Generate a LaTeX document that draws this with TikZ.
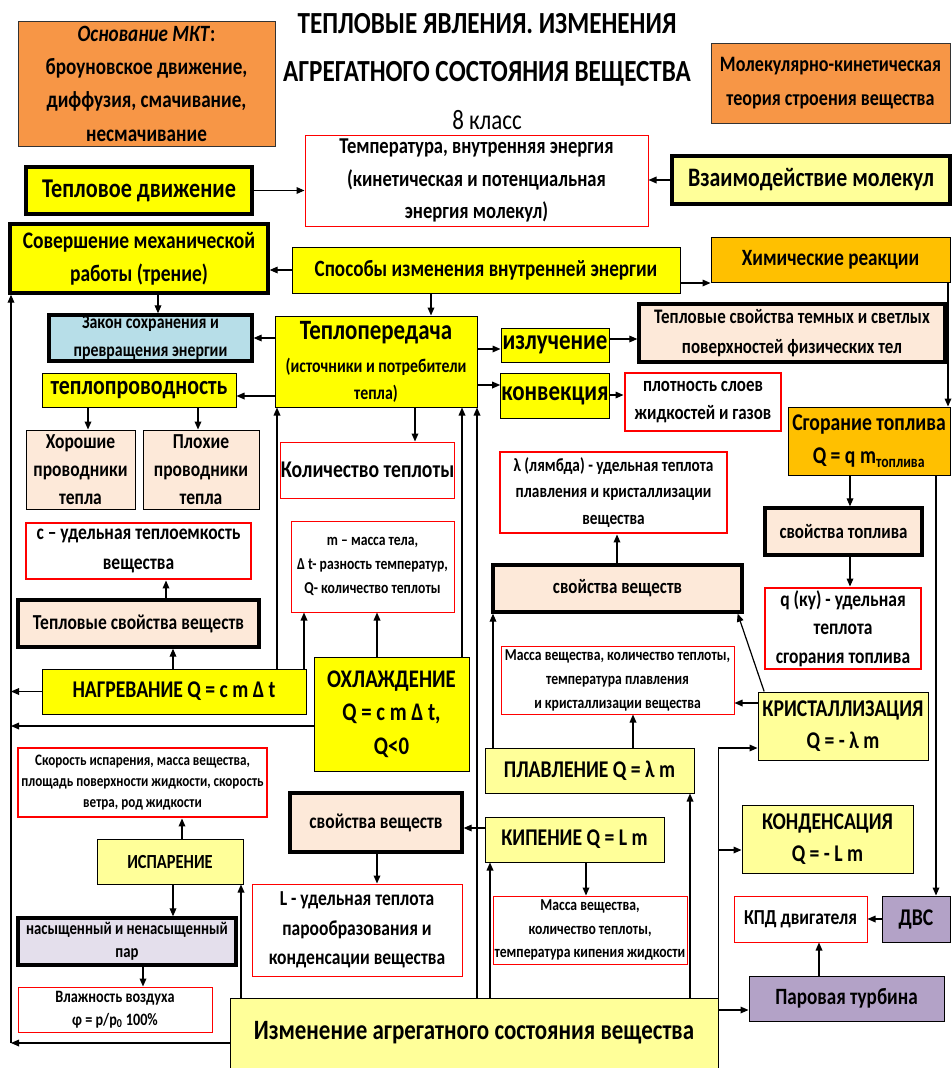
\documentclass[tikz,border=0pt]{standalone}
\usepackage{fontspec}
\setmainfont{Carlito}[FakeStretch=0.82]
\usepackage{tikz}
\usetikzlibrary{arrows.meta}

\definecolor{zhelt}{HTML}{FFFF00}
\definecolor{svzhelt}{HTML}{FFFF99}
\definecolor{oranzh}{HTML}{F79646}
\definecolor{zoloto}{HTML}{FFC000}
\definecolor{persik}{HTML}{FDE9D9}
\definecolor{goluboy}{HTML}{B7DEE8}
\definecolor{sirenA}{HTML}{B3A2C7}
\definecolor{sirenB}{HTML}{E4DFEC}

\newcommand{\fsz}[2]{\fontsize{#1}{#2}\selectfont\bfseries}

\begin{document}
\begin{tikzpicture}[x=0.75pt, y=-0.75pt, >={Triangle[length=6pt,width=5pt]}, line width=0.9pt,
    every node/.style={align=center, inner sep=0.5pt},
    sz/.style 2 args={minimum width=#1*0.75pt, minimum height=#2*0.75pt},
    ybox/.style={draw, line width=0.75pt, fill=zhelt},
    ybold/.style={draw, line width=2.5pt, fill=zhelt},
    lybox/.style={draw, line width=0.75pt, fill=svzhelt},
    lybold/.style={draw, line width=2.5pt, fill=svzhelt},
    obox/.style={draw=black!80, line width=0.75pt, fill=oranzh},
    gbox/.style={draw, line width=0.75pt, fill=zoloto},
    pbox/.style={draw, line width=0.75pt, fill=persik},
    pbold/.style={draw, line width=2.5pt, fill=persik},
    bbold/.style={draw, line width=2.5pt, fill=goluboy},
    rbox/.style={draw=red, line width=0.75pt, fill=white},
    rbold/.style={draw=red, line width=2.2pt, fill=white},
    vbox/.style={draw, line width=0.75pt, fill=sirenA},
    vbold/.style={draw, line width=2.5pt, fill=sirenB}]
  \fill[white] (0,0) rectangle (952,1068);
  \useasboundingbox (0,0) rectangle (952,1068);

  % 1. Заголовок и верхние блоки
  \node[font=\fsz{23}{36}] (ttl) at (487,72) {ТЕПЛОВЫЕ ЯВЛЕНИЯ. ИЗМЕНЕНИЯ\\АГРЕГАТНОГО СОСТОЯНИЯ ВЕЩЕСТВА\\{\mdseries\fontsize{21}{34}\selectfont 8 класс}};
  \node[obox, sz={257}{125}, font=\fsz{17.5}{25}] (osn) at (146.5,83.5) {\textit{Основание МКТ}:\\броуновское движение,\\диффузия, смачивание,\\несмачивание};
  \node[obox, sz={239}{80}, font=\fsz{16.5}{26}] (mkt) at (830.5,83) {Молекулярно-кинетическая\\теория строения вещества};
  \node[rbox, sz={343}{91}, font=\fsz{17}{24.5}] (temp) at (476.5,180.5) {Температура, внутренняя энергия\\(кинетическая и потенциальная\\энергия молекул)};
  \node[ybold, sz={226}{47}, font=\fsz{20.3}{25}] (tdv) at (139,190.5) {Тепловое движение};
  \node[lybold, sz={278}{48}, font=\fsz{20}{24}] (vzm) at (811,180) {Взаимодействие молекул};
  \node[ybold, sz={258}{69}, font=\fsz{17.8}{25}] (sov) at (139,258.5) {Совершение механической\\работы (трение)};
  \node[ybox, sz={388}{46}, font=\fsz{17.5}{21}] (spos) at (486,270) {Способы изменения внутренней энергии};
  \node[gbox, sz={239}{45}, font=\fsz{17.5}{21}] (him) at (830.5,259.5) {Химические реакции};

  % 2. Теплопередача
  \node[bbold, sz={203}{46}, font=\fsz{14.5}{21}] (zak) at (150.5,338) {Закон сохранения и\\превращения энергии};
  \node[ybox, sz={202}{91}, font=\fsz{14.5}{20}] (tpd) at (376,361.5) {{\fsz{21}{26}Теплопередача}\\[5pt](источники и потребители\\тепла)};
  \node[ybox, sz={108}{34}, font=\fsz{21}{24}] (izl) at (555,345) {излучение};
  \node[ybox, sz={108}{45}, font=\fsz{21}{24}] (konv) at (555,395.5) {конвекция};
  \node[pbold, sz={306}{58}, font=\fsz{15.5}{22.5}] (tsv) at (792,333) {Тепловые свойства темных и светлых\\поверхностей физических тел};
  \node[rbold, sz={156}{58}, font=\fsz{15.5}{21}] (plot) at (703,402) {плотность слоев\\жидкостей и газов};
  \node[ybox, sz={194}{34}, font=\fsz{20}{24}] (tpr) at (139,390) {теплопроводность};
  \node[pbox, sz={109}{79}, font=\fsz{16}{21}] (hor) at (80.5,469.5) {Хорошие\\проводники\\тепла};
  \node[pbox, sz={116}{79}, font=\fsz{16}{21}] (plh) at (201,469.5) {Плохие\\проводники\\тепла};
  \node[rbox, sz={173}{56}, font=\fsz{18}{22}] (kol) at (367.5,470) {Количество теплоты};

  % 3. Нагревание и охлаждение
  \node[rbold, sz={225}{56}, font=\fsz{16}{22}] (cud) at (138.5,551) {c – удельная теплоемкость\\вещества};
  \node[pbold, sz={241}{47}, font=\fsz{16}{20}] (tsvv) at (138.5,623.5) {Тепловые свойства веществ};
  \node[ybox, sz={264}{45}, font=\fsz{18}{22}] (nag) at (174,691.5) {НАГРЕВАНИЕ Q = c m Δ t};
  \node[rbox, sz={163}{91}, font=\fsz{12.5}{18}] (mas) at (372.5,566.5) {m – масса тела,\\Δ t- разность температур,\\Q- количество теплоты};
  \node[ybox, sz={155}{114}, font=\fsz{19}{25}] (ohl) at (391.5,714) {ОХЛАЖДЕНИЕ\\Q = c m Δ t,\\Q<0};

  % 4. Плавление и кристаллизация
  \node[rbold, sz={227}{81}, font=\fsz{14}{20}] (lam) at (613.5,492.5) {λ (лямбда) - удельная теплота\\плавления и кристаллизации\\вещества};
  \node[pbold, sz={249}{47}, font=\fsz{15.5}{20}] (svv) at (617.5,588.5) {свойства веществ};
  \node[rbox, sz={233}{68}, font=\fsz{12.5}{18}] (mpl) at (617.5,680) {Масса вещества, количество теплоты,\\температура плавления\\и кристаллизации вещества};
  \node[lybox, sz={209}{45}, font=\fsz{18}{22}] (plv) at (589.5,770.5) {ПЛАВЛЕНИЕ Q = λ m};
  \node[lybox, sz={170}{68}, font=\fsz{18}{24}] (kri) at (843,726) {КРИСТАЛЛИЗАЦИЯ\\Q = - λ m};

  % 5. Топливо
  \node[gbox, sz={162}{68}, font=\fsz{18}{25}] (sgr) at (869,441) {Сгорание топлива\\Q = q m\textsubscript{топлива}};
  \node[pbold, sz={157}{47}, font=\fsz{15.5}{20}] (svt) at (843.5,531.5) {свойства топлива};
  \node[rbold, sz={156}{81}, font=\fsz{16}{21.5}] (qku) at (843,628.5) {q (ку) - удельная\\теплота\\сгорания топлива};

  % 6. Испарение, кипение, конденсация
  \node[rbold, sz={249}{69}, font=\fsz{12}{16}] (skr) at (142.5,782.5) {Скорость испарения, масса вещества,\\площадь поверхности жидкости, скорость\\ветра, род жидкости};
  \node[lybox, sz={146}{45}, font=\fsz{15}{20}] (isp) at (170,861.5) {ИСПАРЕНИЕ};
  \node[vbold, sz={218}{47}, font=\fsz{13.5}{17.5}] (nas) at (127,941.5) {насыщенный и ненасыщенный\\пар};
  \node[rbox, sz={194}{45}, font=\fsz{13}{17.5}] (vla) at (115,1009.5) {Влажность воздуха\\φ = p/p\textsubscript{0} 100\%};
  \node[pbold, sz={172}{59}, font=\fsz{16}{20}] (svv2) at (376,822.5) {свойства веществ};
  \node[rbox, sz={210}{92}, font=\fsz{16}{22}] (lud) at (357,930) {L - удельная теплота\\парообразования и\\конденсации вещества};
  \node[lybox, sz={179}{45}, font=\fsz{18}{22}] (kip) at (574.5,839.5) {КИПЕНИЕ Q = L m};
  \node[rbox, sz={194}{68}, font=\fsz{12.5}{17.5}] (mkp) at (590,930) {Масса вещества,\\количество теплоты,\\температура кипения жидкости};
  \node[lybox, sz={171}{68}, font=\fsz{18}{24}] (kon) at (827.5,839) {КОНДЕНСАЦИЯ\\Q = - L m};
  \node[rbox, sz={133}{46}, font=\fsz{16}{20}] (kpd) at (800.5,919) {КПД двигателя};
  \node[vbox, sz={68}{46}, font=\fsz{18}{22}] (dvs) at (916,919) {ДВС};
  \node[vbox, sz={195}{45}, font=\fsz{17.5}{22}] (par) at (846.5,998.5) {Паровая турбина};
  \node[lybox, sz={488}{70}, font=\fsz{21}{25}] (izm) at (474,1033) {Изменение агрегатного состояния вещества};

  % 7. Стрелки верхней части
  \draw[->] (tdv.east) -- (tdv.east -| temp.west);
  \draw[->] (vzm.west) -- (vzm.west -| temp.east);
  \draw[->] (spos.west) -- (spos.west -| sov.east);
  \draw[->] (spos.east |- 0,283) -- (him.west |- 0,283);
  \draw[->] (him.south -| 948,0) -- (sgr.north -| 948,0);
  \draw[->] (sov.south -| 158,0) -- (zak.north -| 158,0);
  \draw[->] (spos.south -| 431,0) -- (tpd.north -| 431,0);
  \draw[->] (tpd.west |- zak.east) -- (zak.east);
  \draw[->] (tpd.west |- 0,396) -- (tpr.east |- 0,396);
  \draw[->] (tpd.east |- 0,349) -- (izl.west |- 0,349);
  \draw[->] (tpd.east |- 0,385) -- (konv.west |- 0,385);
  \draw[->] (izl.east |- 0,339) -- (tsv.west |- 0,339);
  \draw[->] (konv.east |- 0,395) -- (plot.west |- 0,395);
  \draw[->] (tpr.south -| 88,0) -- (hor.north -| 88,0);
  \draw[->] (tpr.south -| 198,0) -- (plh.north -| 198,0);
  \draw[->] (tpd.south -| 415,0) -- (kol.north -| 415,0);

  % 8. Стрелки нагревания и охлаждения
  \draw[->] (nag.north -| 277,0) -- (tpd.south -| 277,0);
  \draw[->] (nag.north -| 304,0) -- (mas.south -| 304,0);
  \draw[->] (nag.north -| 173,0) -- (tsvv.south -| 173,0);
  \draw[->] (tsvv.north -| 166,0) -- (cud.south -| 166,0);
  \draw[->] (ohl.north -| 377,0) -- (mas.south -| 377,0);
  \draw[->] (ohl.north -| 462,0) -- (tpd.south -| 462,0);
  \draw[->] (izm.north -| 477,0) -- (tpd.south -| 477,0);
  \coordinate (lft) at (11,1043);
  \draw[->] (izm.west |- lft) -- (lft);
  \draw[->] (lft) -- (sov.south -| lft);
  \draw[->] (nag.west) -- (nag.west -| lft);
  \draw[->] (ohl.west |- 0,726) -- (lft |- 0,726);

  % 9. Стрелки плавления, кипения, конденсации
  \draw[->] (svv.north -| 617,0) -- (lam.south -| 617,0);
  \draw[->] (plv.north -| 633,0) -- (mpl.south -| 633,0);
  \draw[->] (plv.north -| 493,0) -- (svv.south -| 493,0);
  \draw[->] (kri.west |- 0,703) -- (mpl.east |- 0,703);
  \draw[->] ([xshift=5pt]kri.north west) -- ([xshift=-4.5pt]svv.south east);
  \draw[->] (izm.north -| 690,0) -- (plv.south -| 690,0);
  \draw[->] (izm.north -| 490,0) -- (kip.south -| 490,0);
  \draw[->] (kip.west |- 0,828) -- (svv2.east |- 0,828);
  \draw[->] (svv2.south -| 377,0) -- (lud.north -| 377,0);
  \draw[->] (kip.south -| 586,0) -- (mkp.north -| 586,0);
  \draw[->] (izm.north east) |- (kri.west |- 0,748);
  \draw[->] (izm.north east |- 0,850) -- (kon.west |- 0,850);
  \draw[->] (izm.east |- 0,1010) -- (par.west |- 0,1010);

  % 10. Топливо и испарение
  \draw[->] (sgr.south -| 850,0) -- (svt.north -| 850,0);
  \draw[->] (svt.south -| 850,0) -- (qku.north -| 850,0);
  \draw[->] (sgr.south -| 936,0) -- (dvs.north -| 936,0);
  \draw[->] (dvs.west) -- (dvs.west -| kpd.east);
  \draw[->] (par.north -| 819,0) -- (kpd.south -| 819,0);
  \draw[->] (isp.north -| 182,0) -- (skr.south -| 182,0);
  \draw[->] (isp.south -| 173,0) -- (nas.north -| 173,0);
  \draw[->] (nas.south -| 143,0) -- (vla.north -| 143,0);
  \draw[->] (izm.north -| 241,0) -- (isp.south -| 241,0);
\end{tikzpicture}
\end{document}
